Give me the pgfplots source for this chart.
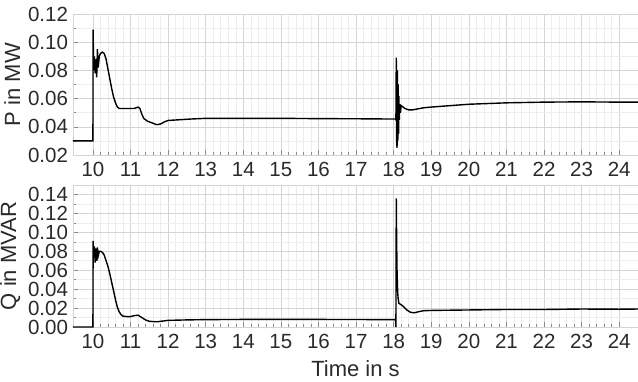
\documentclass[border=0pt]{standalone}
\usepackage{pgfplots}
\pgfplotsset{compat=1.18}
\usepackage{fontspec}
\setmainfont{Liberation Sans}
\definecolor{gridmajor}{HTML}{D4D4D4}
\definecolor{gridminor}{HTML}{EDEDED}
\definecolor{txt}{HTML}{2A2A2A}

\pgfplotsset{
  panel/.style={
    width=565pt, height=141pt, scale only axis,
    xmin=9.47, xmax=24.5,
    xtick={10,...,24},
    minor x tick num=4, minor y tick num=1,
    grid=both,
    major grid style={gridmajor, line width=0.6pt},
    minor grid style={gridminor, line width=0.5pt},
    axis line style={gridmajor, line width=0.8pt},
    tick style={black!45, line width=0.5pt},
    major tick length=5pt, minor tick length=3pt,
    tick align=inside,
    xtick pos=bottom, ytick pos=left,
    tick label style={font=\fontsize{20.5}{23}\selectfont, text=txt},
    label style={font=\fontsize{22}{25}\selectfont, text=txt},
    /pgf/number format/assume math mode=true,
    yticklabel style={xshift=-1.5pt, /pgf/number format/.cd, fixed, fixed zerofill, precision=2},
    scaled y ticks=false,
    xticklabel style={yshift=-3.5pt},
    ylabel style={yshift=1pt},
  }
}

\begin{document}
\begin{tikzpicture}
\useasboundingbox (-73pt,14pt) rectangle (565pt,-367pt);
% active power
\begin{axis}[panel, at={(0,0)}, anchor=north west,
  ymin=0.02, ymax=0.12, ytick={0.02,0.04,...,0.121},
  ylabel={P in MW}]
\addplot[black, line width=1.4pt] coordinates {
 (9.47,0.030) (10.0,0.030) (10.005,0.109) (10.02,0.080) (10.04,0.090) (10.06,0.078)
 (10.08,0.088) (10.10,0.075) (10.12,0.095) (10.14,0.082) (10.17,0.090) (10.20,0.092)
 (10.25,0.093) (10.30,0.092) (10.35,0.088) (10.40,0.081) (10.45,0.074) (10.50,0.067)
 (10.55,0.061) (10.60,0.057) (10.65,0.054) (10.70,0.053) (10.80,0.053) (11.00,0.053)
 (11.10,0.053) (11.20,0.054) (11.25,0.053) (11.30,0.049) (11.35,0.046) (11.45,0.044)
 (11.55,0.043) (11.70,0.0415) (11.80,0.042) (11.90,0.0435) (12.00,0.0445) (12.30,0.045)
 (12.60,0.0455) (13.00,0.046) (14.00,0.046) (15.00,0.046) (16.00,0.0458) (17.00,0.0457)
 (18.05,0.0455) (18.06,0.045) (18.07,0.089) (18.08,0.030) (18.09,0.025) (18.10,0.080)
 (18.11,0.030) (18.12,0.070) (18.13,0.035) (18.14,0.062) (18.15,0.045) (18.16,0.056)
 (18.18,0.050) (18.20,0.055) (18.25,0.054) (18.30,0.053) (18.40,0.052) (18.50,0.052)
 (18.60,0.0525) (18.80,0.0535) (19.00,0.054) (19.50,0.055) (20.00,0.056) (20.50,0.0565)
 (21.00,0.057) (22.00,0.0575) (23.00,0.0577) (24.00,0.0575) (24.50,0.0575)
};
\end{axis}
% reactive power
\begin{axis}[panel, at={(0,-171pt)}, anchor=north west, height=142pt,
  ymin=0, ymax=0.15, ytick={0,0.02,...,0.141},
  ylabel={Q in MVAR}, xlabel={Time in s}, xlabel style={yshift=-5pt}]
\addplot[black, line width=1.4pt] coordinates {
 (9.47,0) (10.0,0) (10.005,0.091) (10.02,0.075) (10.04,0.085) (10.06,0.068)
 (10.08,0.083) (10.10,0.070) (10.12,0.084) (10.14,0.075) (10.17,0.080) (10.20,0.080)
 (10.25,0.079) (10.30,0.076) (10.35,0.070) (10.40,0.064) (10.45,0.056) (10.50,0.047)
 (10.55,0.038) (10.60,0.029) (10.65,0.021) (10.70,0.016) (10.75,0.013) (10.80,0.0115)
 (10.90,0.011) (11.00,0.011) (11.10,0.012) (11.20,0.0125) (11.30,0.010) (11.40,0.0075)
 (11.50,0.006) (11.70,0.0055) (11.90,0.0065) (12.00,0.007) (12.50,0.0075) (13.00,0.0078)
 (14.00,0.008) (15.00,0.008) (16.00,0.008) (17.00,0.0079) (18.05,0.0078) (18.06,0)
 (18.07,0.136) (18.08,0.090) (18.09,0.060) (18.10,0.045) (18.11,0.035) (18.12,0.030)
 (18.14,0.025) (18.18,0.024) (18.25,0.022) (18.35,0.018) (18.45,0.0155) (18.55,0.015)
 (18.70,0.0165) (18.80,0.0172) (19.00,0.0175) (20.00,0.018) (21.00,0.0185) (22.00,0.0185)
 (23.00,0.019) (24.00,0.0188) (24.50,0.019)
};
\end{axis}
\end{tikzpicture}
\end{document}
